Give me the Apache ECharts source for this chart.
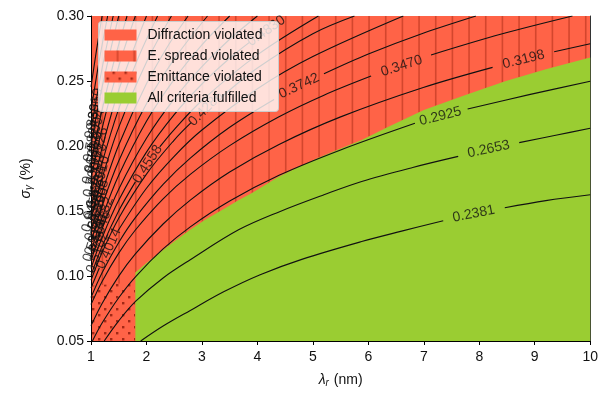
<!DOCTYPE html>
<html><head><meta charset="utf-8">
<script src="https://cdn.jsdelivr.net/npm/echarts@6/dist/echarts.min.js"></script>
<style>html,body{margin:0;padding:0;background:#fff}#c{width:601px;height:393px}</style>
</head><body><div id="c"></div>
<script>
// ---- tick labels ----
const xTicks = [1,2,3,4,5,6,7,8,9,10];
const yTicks = [0.05,0.10,0.15,0.20,0.25,0.30];

// ---- region boundaries ----
const espreadBoundary = [[1.0,0.0925],[1.3,0.0935],[1.6,0.0945],[1.79,0.0955],[1.8,0.1026],[2.0,0.110],[2.27,0.119],[2.5,0.1265],[2.77,0.135],[3.05,0.143],[3.37,0.151],[3.65,0.158],[3.91,0.164],[4.39,0.1766],[4.75,0.184],[5.1,0.191],[5.5,0.198],[5.88,0.2047],[6.4,0.2155],[7.0,0.2277],[7.7,0.2385],[8.48,0.25],[9.2,0.259],[10,0.268]];
const lambdaLimit = 1.8;

// ---- contour levels and traced lines (null = gap for inline label) ----
const levels = ['0.2381','0.2653','0.2925','0.3198','0.3470','0.3742','0.4014','0.4286','0.4558','0.4830','0.5102','0.5374','0.5646','0.5918','0.6190','0.6462','0.6734','0.7006','0.7278','0.7550','0.7822','0.8094','0.8366','0.8638','0.8910','0.9182','0.9454','0.9726'];
const cA = [[1.896,0.05],[2.3,0.0615],[2.79,0.0735],[3.4,0.088],[4.05,0.101],[4.8,0.1128],[5.88,0.1265],[6.6,0.1345],[7.35,0.1425],null,[8.46,0.1525],[9.2,0.158],[10,0.1625]];
const cB = [[1.238,0.05],[1.5,0.0655],[1.807,0.0806],[2.3,0.0985],[2.79,0.1125],[3.66,0.1355],[4.4,0.1495],[5.2,0.1625],[5.88,0.1727],[6.8,0.1835],[7.62,0.192],null,[8.72,0.2026],[9.4,0.2085],[10,0.2136]];
const cC = [[1.026,0.05],[1.2,0.0638],[1.5,0.0833],[1.81,0.0998],[2.3,0.1208],[2.79,0.1378],[3.5,0.1577],[4.39,0.1775],[5.5,0.197],[6.84,0.2175],null,[7.79,0.2285],[8.9,0.2395],[10,0.2498]];
const cD = [[1,0.0617],[1.2,0.0789],[1.5,0.0999],[1.8,0.117],[2.3,0.140],[2.79,0.1584],[3.5,0.18],[4.39,0.2012],[5.5,0.2224],[6.99,0.245],[8.24,0.2605],null,[9.35,0.2725],[10,0.2787]];
const cE = [[1,0.078],[1.2,0.0958],[1.5,0.1176],[1.8,0.1354],[2.3,0.1594],[2.79,0.1782],[3.5,0.2003],[4.39,0.2225],[5.2,0.2391],[6.05,0.2538],null,[7.13,0.27],[8.4,0.2861],[9.68,0.30]];
const cF = [[1,0.0834],[1.2,0.1025],[1.5,0.1258],[1.8,0.1449],[2.3,0.1705],[2.79,0.1907],[3.5,0.2144],[4.3,0.2358],null,[5.2,0.2555],[6,0.2707],[7,0.2869],[7.94,0.30]];
const cG = [[1,0.0908],[1.15,0.1062],null,[1.49,0.135],[2,0.1675],[2.5,0.1921],[3,0.2123],[4,0.2441],[5,0.2688],[6.63,0.30]];
const cH = [[1,0.0967],[1.2,0.1181],[1.5,0.1445],[2,0.1784],[2.5,0.2046],[2.8,0.2178],null,[3.35,0.2375],[4,0.26],[5,0.2864],[5.75,0.30]];
const cI = [[1,0.1005],[1.2,0.1228],[1.5,0.1501],[1.8,0.1724],null,[2.24,0.1993],[2.5,0.2126],[3,0.235],[4,0.2701],[5.1,0.30]];
const cJ = [[1,0.1059],[1.2,0.1294],[1.5,0.1582],[2,0.1953],[2.5,0.2241],[3,0.2477],[3.5,0.2675],[3.85,0.2795]];
const cK = [[1,0.1117],[1.2,0.1364],[1.5,0.1668],[2,0.2059],[2.5,0.2362],[3,0.2611],[3.5,0.2821],[4,0.30]];
const cL = [[1,0.1188],[1.2,0.1451],[1.5,0.1775],[2,0.2191],[2.5,0.2513],[3,0.2778],[3.5,0.30]];
const cM = [[1,0.1261],[1.2,0.1541],[1.5,0.1884],[2,0.2325],[2.5,0.2668],[3.1,0.30]];
const cN = [[1,0.1344],[1.2,0.1642],[1.5,0.2008],[2,0.2478],[2.4,0.2779],[2.75,0.30]];
const cO = [[1,0.1434],[1.2,0.1752],[1.5,0.2143],[2,0.2645],[2.45,0.30]];
const cP = [[1,0.153],[1.2,0.187],[1.5,0.2286],[1.85,0.2677],[2.2,0.30]];
const cQ = [[1,0.1626],[1.2,0.1986],[1.5,0.2429],[2.0,0.30]];
const cR = [[1,0.1749],[1.2,0.2136],[1.5,0.2612],[1.8,0.30]];
const cS = [[1,0.1864],[1.2,0.2277],[1.4,0.2627],[1.65,0.30]];
const cT = [[1,0.2007],[1.2,0.2452],[1.5,0.30]];
const cU = [[1,0.2126],[1.2,0.2598],[1.4,0.30]];
const cV = [[1,0.2274],[1.15,0.2661],[1.3,0.30]];
const cW = [[1,0.2455],[1.1,0.274],[1.2,0.30]];
const contours = [cA,cB,cC,cD,cE,cF,cG,cH,cI,cJ,cK,cL,cM,cN,cO,cP,cQ,cR,cS,cT,cU,cV,cW];

// ---- inline contour label anchors [x, y, levelIndex] ----
const labelPts = [[7.9,0.1478,0],[8.17,0.1975,1],[7.3,0.2228,2],[8.8,0.2665,3],[6.6,0.2615,4],[4.75,0.2462,5],[1.32,0.121,6],[3.07,0.2285,7],[2.02,0.186,8],[4.16,0.2885,9],
  [1.12,0.118,10],[1.05,0.127,11],[1.16,0.134,12],[1.07,0.143,13],[1.13,0.152,14],[1.04,0.160,15],[1.1,0.168,16],[1.03,0.177,17],[1.12,0.186,18],[1.06,0.195,19],
  [1.02,0.204,20],[1.09,0.212,21],[1.04,0.222,22],[1.14,0.158,23],[1.18,0.176,24],[1.08,0.132,25],[1.01,0.150,26],[1.15,0.198,27],[1.0,0.187,23],[1.07,0.228,24],[1.2,0.145,25]];
const labelAngles = [11,12,14,14,18,25,66,45,57,35,70,72,71,74,73,76,75,77,76,78,79,78,80,74,77,72,75,78,79,80,70];

const legendNames = ['Diffraction violated','E. spread violated','Emittance violated','All criteria fulfilled'];

// ---- styles ----
const RED = '#ff6347', GREEN = '#9acd32', HATCH = 'rgba(150,30,10,0.42)';
function hatchPattern(){
  const c = document.createElement('canvas'); c.width = 50; c.height = 10;
  const g = c.getContext('2d'); g.fillStyle = HATCH;
  [1.6, 18.27, 34.93].forEach(x => g.fillRect(x, 0, 1.6, 10));
  return {image: c, repeat: 'repeat'};
}
function dotPattern(){
  const c = document.createElement('canvas'); c.width = 12; c.height = 12;
  const g = c.getContext('2d'); g.fillStyle = 'rgba(140,25,10,0.8)';
  g.fillRect(2, 2, 2.4, 2.4); g.fillRect(8, 8, 2.4, 2.4);
  return {image: c, repeat: 'repeat'};
}
const hatch = hatchPattern(), dots = dotPattern();
const FONT = '"Liberation Sans", Arial, sans-serif';

const series = [];
series.push({type:'line', data: espreadBoundary, symbol:'none', lineStyle:{width:0}, areaStyle:{origin:'end', color: hatch, opacity:1}, silent:true, z:1});
series.push({type:'line', data: espreadBoundary.filter(p => p[0] < lambdaLimit).concat([[lambdaLimit, espreadBoundary.filter(p => p[0] < lambdaLimit).pop()[1]]]), symbol:'none', lineStyle:{width:0}, areaStyle:{origin:'start', color: dots, opacity:1}, silent:true, z:1});
series.push({type:'line', data: [[lambdaLimit, yTicks[0]]].concat(espreadBoundary.filter(p => p[0] >= lambdaLimit)), symbol:'none', lineStyle:{width:0}, areaStyle:{origin:'start', color: GREEN, opacity:1}, silent:true, z:2});
contours.forEach(line => {
  let seg = [];
  const flush = () => { if (seg.length > 1) series.push({type:'line', data: seg, symbol:'none', smooth:0.35, lineStyle:{color:'#111', width:1.1}, silent:true, z:3}); seg = []; };
  line.forEach(p => { if (p === null) flush(); else seg.push(p); });
  flush();
});
series.push({type:'scatter', symbolSize:0, silent:true, z:4,
  data: labelPts.map((p,i) => ({value:[p[0],p[1]], label:{show:true, position:'inside', formatter: levels[p[2]], rotate: labelAngles[i], fontSize:14, color:'#111', fontFamily: FONT}}))});

// legend drawn as graphic, on top
const legendX = 98, legendY = 21, rowH = 21;
const legendFills = [RED, RED, RED, GREEN];
const legendChildren = [{type:'rect', z:100, shape:{x:0, y:0, width:180, height:90, r:3}, style:{fill:'rgba(255,255,255,0.8)', stroke:'#cccccc', lineWidth:1}}];
legendNames.forEach((n,i) => {
  legendChildren.push({type:'rect', z:101, shape:{x:6, y:8 + i*rowH, width:32, height:11}, style:{fill: legendFills[i]}});
  if (i === 1) legendChildren.push({type:'rect', z:102, shape:{x:6, y:8 + i*rowH, width:32, height:11}, style:{fill: hatch}});
  if (i === 2) legendChildren.push({type:'rect', z:102, shape:{x:6, y:8 + i*rowH, width:32, height:11}, style:{fill: dots}});
  legendChildren.push({type:'text', z:103, x:49, y:13.5 + i*rowH, style:{text:n, fill:'#111', font:'14px ' + FONT, textVerticalAlign:'middle'}});
});

const chart = echarts.init(document.getElementById('c'), null, {renderer:'canvas'});
chart.setOption({
  animation:false,
  grid:{left:91, right:8, top:16, bottom:51, show:true, backgroundColor:RED, borderWidth:0},
  xAxis:[{type:'value', min:xTicks[0], max:xTicks[xTicks.length-1], interval:1,
    name:'{l|λ}{s|r} (nm)', nameLocation:'middle', nameGap:31,
    nameTextStyle:{fontSize:14, fontFamily:FONT, color:'#111', rich:{l:{fontSize:14, fontStyle:'italic', fontFamily:FONT, color:'#111'}, s:{fontSize:10, fontStyle:'italic', verticalAlign:'bottom', padding:[6,1,0,0], fontFamily:FONT, color:'#111'}}},
    axisLine:{show:true, lineStyle:{color:'#000', width:1}}, axisTick:{show:true, length:4, lineStyle:{color:'#000'}},
    axisLabel:{fontSize:14, fontFamily:FONT, color:'#111', margin:9}, splitLine:{show:false}}],
  yAxis:[{type:'value', min:yTicks[0], max:yTicks[yTicks.length-1], interval:0.05,
    name:'{g|σ}{s|γ} (%)', nameLocation:'middle', nameGap:57, nameRotate:90,
    nameTextStyle:{fontSize:14, fontFamily:FONT, color:'#111', rich:{g:{fontSize:14, fontStyle:'italic', fontFamily:FONT, color:'#111'}, s:{fontSize:10, fontStyle:'italic', padding:[6,1,0,0], fontFamily:FONT, color:'#111'}}},
    axisLine:{show:true, onZero:false, lineStyle:{color:'#000', width:1}}, axisTick:{show:true, length:4, lineStyle:{color:'#000'}},
    axisLabel:{fontSize:14, fontFamily:FONT, color:'#111', margin:7, formatter: v => v.toFixed(2)}, splitLine:{show:false}},
    {type:'value', position:'right', min:0.05, max:0.30, axisLine:{show:true, onZero:false, lineStyle:{color:'#333'}}, axisTick:{show:false}, axisLabel:{show:false}, splitLine:{show:false}}],
  series: series,
  graphic:[{type:'group', left:legendX, top:legendY, z:100, children: legendChildren}]
});
</script></body></html>
